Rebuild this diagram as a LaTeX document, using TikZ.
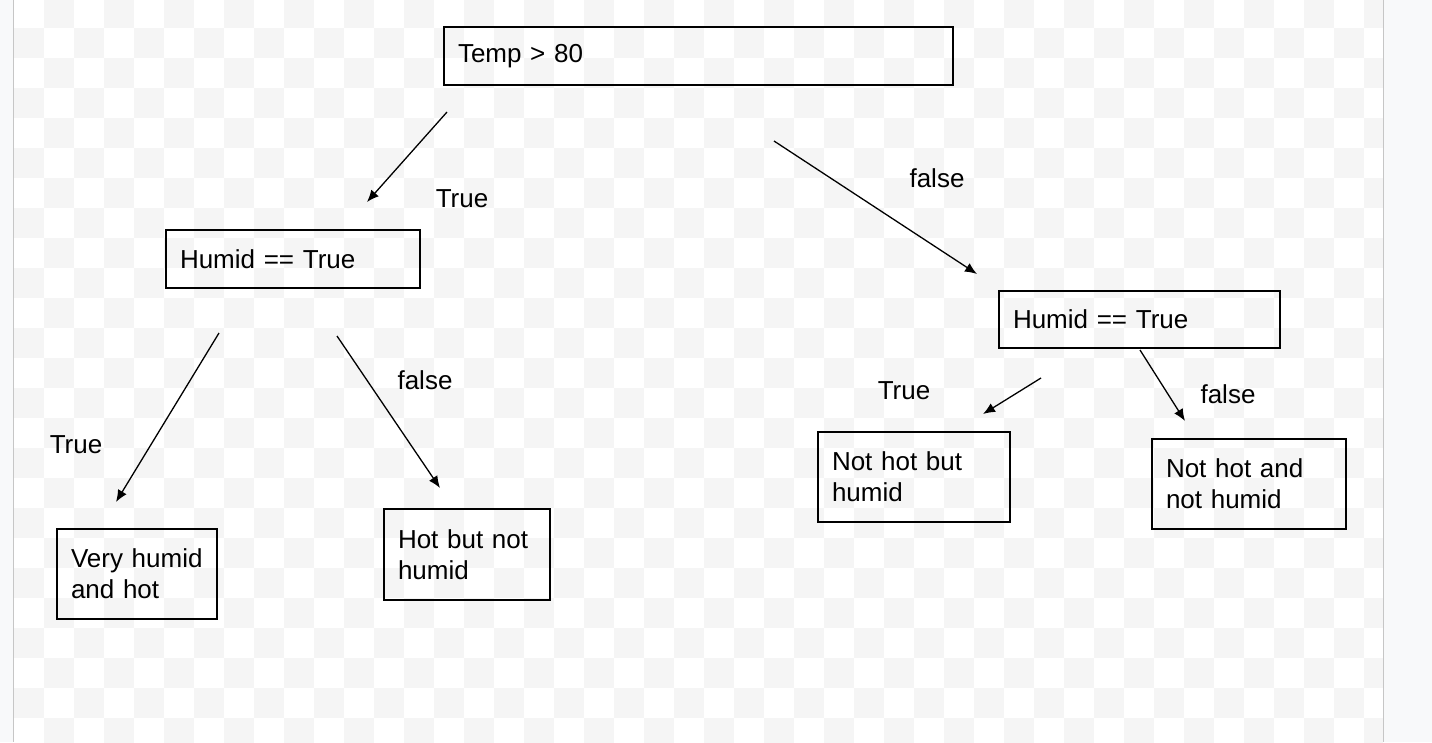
\documentclass[tikz,border=0pt]{standalone}
\usepackage{fontspec}
\setmainfont{Liberation Sans}
\usetikzlibrary{arrows.meta}
\definecolor{chk}{HTML}{F5F5F5}
\definecolor{side}{HTML}{F8F9FA}
\definecolor{edgegray}{HTML}{C6C6C6}
\tikzset{
  box/.style={draw=black, line width=2.8pt, inner xsep=14pt, inner ysep=0pt, align=left,
    font=\fontsize{26}{31}\selectfont, anchor=center},
  lbl/.style={font=\fontsize{26}{31}\selectfont, inner sep=0pt, anchor=center},
  conn/.style={draw=black, line width=1.3pt, -{Latex[length=12pt,width=10pt]}}
}
\begin{document}
\begin{tikzpicture}[x=1pt,y=-1pt]
\useasboundingbox (0,0) rectangle (1432,742);
% background
\fill[side] (0,0) rectangle (1432,742);
\fill[white] (13.5,0) rectangle (1383,742);
\begin{scope}
\clip (13.5,0) rectangle (1383,742);
\foreach \i in {0,...,45}{
  \foreach \j in {0,...,25}{
    \pgfmathtruncatemacro\s{\i+\j}
    \ifodd\s \fill[chk] ({14+30*\i},{-2+30*\j}) rectangle +(30,30); \fi
  }
}
\end{scope}
\draw[edgegray, line width=1pt] (13,0) -- (13,742);
\draw[edgegray, line width=1pt] (1383.5,0) -- (1383.5,742);
% boxes
\node[box, minimum width=509pt, minimum height=58pt, text width=481pt] (temp) at (698.5,56) {Temp > 80};
\node[box, minimum width=254pt, minimum height=58pt, text width=226pt] (humidL) at (293,259) {Humid == True};
\node[box, minimum width=281pt, minimum height=57pt, text width=253pt] (humidR) at (1139.5,319.5) {Humid == True};
\node[box, minimum width=160pt, minimum height=90pt, text width=132pt] (vh) at (137,574) {Very humid\\and hot};
\node[box, minimum width=166pt, minimum height=91pt, text width=138pt] (hbn) at (467,554.5) {Hot but not\\humid};
\node[box, minimum width=192pt, minimum height=90pt, text width=164pt] (nhb) at (914,477) {Not hot but\\humid};
\node[box, minimum width=194pt, minimum height=90pt, text width=166pt] (nha) at (1249,484) {Not hot and\\not humid};
% connector end points
\coordinate (a1s) at (447,112); \coordinate (a1e) at (367,202);
\coordinate (a2s) at (774,141); \coordinate (a2e) at (977,274);
\coordinate (a3s) at (219,333); \coordinate (a3e) at (116,502);
\coordinate (a4s) at (337,336); \coordinate (a4e) at (440,488);
\coordinate (a5s) at (1041,378); \coordinate (a5e) at (983,414);
\coordinate (a6s) at (1140,350); \coordinate (a6e) at (1185,421);
\draw[conn] (a1s) -- (a1e);
\draw[conn] (a2s) -- (a2e);
\draw[conn] (a3s) -- (a3e);
\draw[conn] (a4s) -- (a4e);
\draw[conn] (a5s) -- (a5e);
\draw[conn] (a6s) -- (a6e);
% labels
\node[lbl] (l1) at (462,199) {True};
\node[lbl] (l2) at (937,178) {false};
\node[lbl] (l3) at (76,445) {True};
\node[lbl] (l4) at (425,380) {false};
\node[lbl] (l5) at (904,391) {True};
\node[lbl] (l6) at (1228,394) {false};
\end{tikzpicture}
\end{document}
